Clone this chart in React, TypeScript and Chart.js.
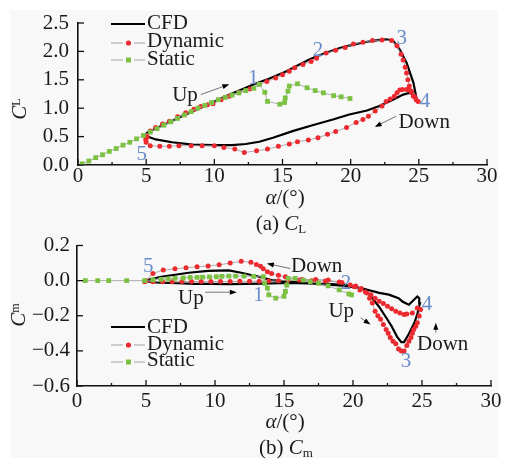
import React, { useEffect, useRef } from "react";
import { Chart, registerables } from "chart.js";

Chart.register(...registerables);

const SERIF = '"Liberation Serif", "Times New Roman", Times, serif';
const INK = "#1a1a1a";
const RED = "#ec2a2f";
const GREEN = "#7cc242";
const BLUE = "#6a8bc9";
const THIN = "#9a9a9a";

type P = [number, number];

// ---------- tick values ----------
const alphaTicks = [0, 5, 10, 15, 20, 25, 30];
const clTicks = [0, 0.5, 1, 1.5, 2, 2.5];
const cmTicks = [-0.6, -0.4, -0.2, 0, 0.2];

// ---------- (a) lift coefficient C_L vs alpha ----------
const cfdCL: P[] = [
  [5.0, 0.56], [6.0, 0.68], [7.0, 0.79], [8.0, 0.9], [9.0, 1.01], [10.0, 1.12], [11.0, 1.23],
  [12.0, 1.33], [13.0, 1.43], [14.0, 1.52], [15.0, 1.62], [15.3, 1.65], [16.0, 1.74], [17.0, 1.86],
  [18.0, 1.96], [19.2, 2.06], [20.2, 2.12], [21.2, 2.17], [22.0, 2.2], [22.6, 2.21], [23.1, 2.19],
  [23.6, 2.03], [24.1, 1.8], [24.6, 1.45], [24.8, 1.21], [24.3, 1.27], [23.85, 1.24], [23.1, 1.15],
  [22.1, 1.04], [21.2, 0.96], [19.9, 0.89], [18.7, 0.8], [17.2, 0.7], [15.8, 0.6], [14.3, 0.48],
  [13.3, 0.41], [12.3, 0.37], [11.3, 0.35], [9.9, 0.35], [8.4, 0.36], [6.9, 0.4], [5.7, 0.45],
  [5.0, 0.51], [5.0, 0.56],
];

const dynamicCL: P[] = [
  [5.05, 0.51], [5.3, 0.6], [5.7, 0.66], [6.2, 0.72], [6.7, 0.77], [7.3, 0.85], [7.9, 0.92],
  [8.5, 0.98], [9.0, 1.03], [9.5, 1.06], [9.9, 1.08], [10.5, 1.15], [11.1, 1.21], [11.8, 1.27],
  [12.6, 1.34], [13.3, 1.42], [13.85, 1.47], [14.5, 1.53], [15.0, 1.59], [15.5, 1.65], [15.9, 1.71],
  [16.5, 1.77], [17.1, 1.82], [17.5, 1.88], [18.2, 1.97], [18.9, 2.02], [19.6, 2.07], [20.2, 2.13],
  [20.9, 2.16], [21.6, 2.19], [22.3, 2.2], [23.0, 2.19], [23.4, 2.1], [23.7, 1.95], [23.85, 1.85],
  [24.0, 1.72], [24.1, 1.62], [24.2, 1.5], [24.3, 1.39], [24.45, 1.3], [24.6, 1.21], [24.8, 1.15],
  [24.95, 1.12], [24.7, 1.2], [24.45, 1.28], [24.3, 1.32], [24.1, 1.33], [23.8, 1.33], [23.6, 1.32],
  [23.4, 1.27], [23.2, 1.21], [22.9, 1.16], [22.6, 1.12], [22.3, 1.04], [21.8, 0.95], [21.3, 0.86],
  [20.9, 0.8], [20.4, 0.75], [19.7, 0.66], [18.9, 0.59], [18.3, 0.54], [17.6, 0.48], [16.9, 0.44],
  [16.1, 0.41], [15.5, 0.37], [14.7, 0.33], [13.9, 0.28], [13.1, 0.25], [12.2, 0.22], [11.5, 0.28],
  [10.7, 0.31], [10.0, 0.34], [9.1, 0.34], [8.3, 0.34], [7.4, 0.34], [6.7, 0.33], [6.0, 0.33],
  [5.3, 0.34], [5.0, 0.4], [4.97, 0.45], [5.05, 0.49],
];

const staticCL: P[] = [
  [0.3, 0.02], [0.8, 0.07], [1.3, 0.13], [1.8, 0.18], [2.3, 0.24], [2.8, 0.29], [3.3, 0.35],
  [3.8, 0.4], [4.3, 0.46], [4.8, 0.52], [5.3, 0.58], [5.8, 0.64], [6.3, 0.7], [6.8, 0.76],
  [7.3, 0.82], [7.8, 0.88], [8.3, 0.94], [8.8, 1.0], [9.3, 1.05], [9.8, 1.1], [10.3, 1.15],
  [10.8, 1.19], [11.3, 1.23], [11.8, 1.27], [12.3, 1.31], [12.9, 1.35], [13.3, 1.42], [13.7, 1.28],
  [13.9, 1.12], [14.8, 1.07], [15.15, 1.1], [15.2, 1.18], [15.4, 1.3], [15.5, 1.39], [16.1, 1.43],
  [16.8, 1.36], [17.4, 1.31], [18.0, 1.27], [18.75, 1.22], [19.3, 1.2], [19.95, 1.17],
];

// ---------- (b) moment coefficient C_m vs alpha ----------
const cfdCm: P[] = [
  [5.0, 0.0], [5.3, -0.007], [6.0, -0.012], [7.3, -0.015], [8.5, -0.018], [9.8, -0.019],
  [11.0, -0.02], [12.2, -0.019], [13.5, -0.017], [14.6, -0.015], [16.0, -0.015], [17.3, -0.017],
  [18.5, -0.02], [19.5, -0.025], [20.4, -0.04], [20.9, -0.055], [21.4, -0.1], [21.9, -0.15],
  [22.4, -0.21], [22.8, -0.26], [23.2, -0.32], [23.5, -0.35], [23.7, -0.35], [24.0, -0.31],
  [24.2, -0.28], [24.45, -0.24], [24.66, -0.19], [24.85, -0.13], [24.8, -0.1], [24.66, -0.09],
  [24.4, -0.11], [24.05, -0.137], [23.6, -0.12], [23.3, -0.1], [22.6, -0.08], [21.9, -0.07],
  [20.7, -0.045], [19.2, -0.028], [17.3, -0.017], [15.3, -0.006], [14.1, 0.003], [13.2, 0.022],
  [11.9, 0.045], [11.0, 0.058], [9.5, 0.056], [8.1, 0.045], [6.1, 0.022], [5.3, 0.008], [5.0, 0.0],
];

const dynamicCm: P[] = [
  [4.9, -0.006], [5.5, -0.006], [6.2, -0.006], [6.9, -0.006], [7.6, -0.005], [8.3, -0.005],
  [9.0, -0.005], [9.7, -0.005], [10.4, -0.005], [11.1, -0.005], [11.8, -0.004], [12.5, -0.004],
  [13.2, -0.003], [13.9, -0.002], [14.6, -0.001], [15.3, 0.002], [16.3, 0.006], [17.3, 0.007],
  [18.2, 0.003], [19.2, -0.011], [20.2, -0.03], [20.6, -0.045], [21.0, -0.071], [21.2, -0.1],
  [21.4, -0.128], [21.6, -0.174], [21.8, -0.2], [22.0, -0.22], [22.2, -0.25], [22.4, -0.278],
  [22.55, -0.3], [22.7, -0.324], [22.9, -0.345], [23.1, -0.36], [23.3, -0.39], [23.5, -0.4],
  [23.7, -0.4], [23.9, -0.37], [24.05, -0.345], [24.2, -0.324], [24.3, -0.3], [24.4, -0.278],
  [24.55, -0.26], [24.66, -0.24], [24.8, -0.202], [24.9, -0.165], [24.66, -0.156], [24.3, -0.184],
  [23.9, -0.19], [23.7, -0.193], [23.4, -0.185], [23.1, -0.174], [22.8, -0.16], [22.5, -0.146],
  [22.2, -0.13], [21.9, -0.118], [21.6, -0.1], [21.3, -0.08], [20.9, -0.065], [20.5, -0.053],
  [20.1, -0.035], [19.8, -0.025], [19.0, -0.008], [18.0, -0.002], [17.0, 0.0], [16.1, 0.004],
  [15.1, 0.022], [14.6, 0.03], [14.1, 0.041], [13.8, 0.05], [13.5, 0.068], [13.3, 0.082],
  [13.0, 0.092], [12.6, 0.104], [11.9, 0.11], [11.1, 0.1], [10.3, 0.09], [9.5, 0.083],
  [8.7, 0.079], [7.9, 0.073], [7.1, 0.067], [6.25, 0.06], [5.5, 0.041], [5.0, 0.0],
];

const staticCm: P[] = [
  [0.6, 0.0], [1.5, 0.0], [2.3, 0.0], [3.6, 0.0], [4.9, 0.0], [5.5, 0.004], [6.1, 0.007],
  [6.6, 0.01], [7.1, 0.013], [7.7, 0.015], [8.2, 0.018], [8.7, 0.019], [9.1, 0.02], [9.6, 0.021],
  [10.1, 0.022], [10.5, 0.024], [11.0, 0.026], [11.5, 0.026], [12.1, 0.026], [12.8, 0.024],
  [13.5, 0.022], [13.6, -0.015], [13.8, -0.043], [13.9, -0.081], [14.4, -0.1], [15.0, -0.09],
  [15.1, -0.062], [15.2, -0.025], [15.3, 0.013], [15.8, 0.013], [16.4, 0.003], [16.9, -0.006],
  [17.5, -0.015], [18.2, -0.03], [19.0, -0.053], [19.7, -0.075], [19.9, -0.081],
];

// ---------- annotations (data coordinates) ----------
type Ann = { text: string; x: number; y: number; color: string };
type Arrow = { x1: number; y1: number; x2: number; y2: number };

const topNotes: Ann[] = [
  { text: "1", x: 12.85, y: 1.53, color: BLUE },
  { text: "2", x: 17.6, y: 2.02, color: BLUE },
  { text: "3", x: 23.75, y: 2.23, color: BLUE },
  { text: "4", x: 25.45, y: 1.11, color: BLUE },
  { text: "5", x: 4.67, y: 0.19, color: BLUE },
  { text: "Up", x: 7.85, y: 1.22, color: INK },
  { text: "Down", x: 25.4, y: 0.75, color: INK },
];
const topArrows: Arrow[] = [
  { x1: 9.0, y1: 1.24, x2: 11.1, y2: 1.42 },
  { x1: 23.35, y1: 0.86, x2: 21.76, y2: 0.67 },
];

const botNotes: Ann[] = [
  { text: "5", x: 5.16, y: 0.079, color: BLUE },
  { text: "1", x: 13.15, y: -0.085, color: BLUE },
  { text: "2", x: 19.5, y: -0.015, color: BLUE },
  { text: "3", x: 23.84, y: -0.46, color: BLUE },
  { text: "4", x: 25.36, y: -0.136, color: BLUE },
  { text: "Up", x: 8.25, y: -0.102, color: INK },
  { text: "Down", x: 17.37, y: 0.083, color: INK },
  { text: "Up", x: 19.15, y: -0.175, color: INK },
  { text: "Down", x: 26.5, y: -0.366, color: INK },
];
const botArrows: Arrow[] = [
  { x1: 9.28, y1: -0.066, x2: 11.58, y2: -0.066 },
  { x1: 15.46, y1: 0.069, x2: 13.76, y2: 0.097 },
  { x1: 20.55, y1: -0.212, x2: 21.27, y2: -0.25 },
  { x1: 26.0, y1: -0.296, x2: 26.0, y2: -0.24 },
];

const seriesNames = ["CFD", "Dynamic", "Static"];

const toXY = (pts: P[]) => pts.map(([x, y]) => ({ x, y }));

const fmt = (v: number) => {
  if (Math.abs(v) < 1e-9) return "0.0";
  return v < 0 ? "\u2212" + Math.abs(v).toFixed(1) : v.toFixed(1);
};

function makeDecor(cfg: {
  yTicks: number[];
  notes: Ann[];
  arrows: Arrow[];
  legendRows: number[];
  legendText: number[];
}) {
  return {
    id: "decor",
    afterDatasetsDraw(chart: any) {
      const { ctx, chartArea: ca, scales } = chart;
      const xs = scales.x;
      const ys = scales.y;
      ctx.save();
      // inward tick marks
      ctx.strokeStyle = "#111";
      ctx.lineWidth = 1.3;
      for (let i = 0; i <= 12; i++) {
        const px = xs.getPixelForValue(i * 2.5);
        const len = i % 2 === 0 ? 6 : 3;
        ctx.beginPath();
        ctx.moveTo(px, ca.bottom);
        ctx.lineTo(px, ca.bottom - len);
        ctx.stroke();
      }
      for (const v of cfg.yTicks) {
        const py = ys.getPixelForValue(v);
        ctx.beginPath();
        ctx.moveTo(ca.left, py);
        ctx.lineTo(ca.left + 6, py);
        ctx.stroke();
      }
      // arrows
      for (const a of cfg.arrows) {
        const x1 = xs.getPixelForValue(a.x1);
        const y1 = ys.getPixelForValue(a.y1);
        const x2 = xs.getPixelForValue(a.x2);
        const y2 = ys.getPixelForValue(a.y2);
        const ang = Math.atan2(y2 - y1, x2 - x1);
        ctx.strokeStyle = "#666";
        ctx.lineWidth = 0.9;
        ctx.beginPath();
        ctx.moveTo(x1, y1);
        ctx.lineTo(x2 - 4 * Math.cos(ang), y2 - 4 * Math.sin(ang));
        ctx.stroke();
        ctx.fillStyle = "#000";
        ctx.beginPath();
        ctx.moveTo(x2, y2);
        ctx.lineTo(x2 - 7 * Math.cos(ang) + 2.5 * Math.sin(ang), y2 - 7 * Math.sin(ang) - 2.5 * Math.cos(ang));
        ctx.lineTo(x2 - 7 * Math.cos(ang) - 2.5 * Math.sin(ang), y2 - 7 * Math.sin(ang) + 2.5 * Math.cos(ang));
        ctx.closePath();
        ctx.fill();
      }
      // text notes
      ctx.font = `21px ${SERIF}`;
      ctx.textAlign = "center";
      ctx.textBaseline = "middle";
      for (const n of cfg.notes) {
        ctx.fillStyle = n.color;
        ctx.fillText(n.text, xs.getPixelForValue(n.x), ys.getPixelForValue(n.y));
      }
      // legend
      const lx0 = 111;
      const lx1 = 145;
      const [r0, r1, r2] = cfg.legendRows;
      ctx.strokeStyle = "#000";
      ctx.lineWidth = 2.2;
      ctx.beginPath();
      ctx.moveTo(lx0, r0);
      ctx.lineTo(lx1, r0);
      ctx.stroke();
      ctx.strokeStyle = THIN;
      ctx.lineWidth = 0.9;
      for (const r of [r1, r2]) {
        ctx.beginPath();
        ctx.moveTo(lx0, r);
        ctx.lineTo(lx0 + 12, r);
        ctx.moveTo(lx1 - 11, r);
        ctx.lineTo(lx1, r);
        ctx.stroke();
      }
      ctx.fillStyle = RED;
      ctx.beginPath();
      ctx.arc(128.5, r1, 2.6, 0, Math.PI * 2);
      ctx.fill();
      ctx.fillStyle = GREEN;
      ctx.fillRect(128.5 - 2.5, r2 - 2.5, 5, 5);
      ctx.fillStyle = INK;
      ctx.textAlign = "left";
      seriesNames.forEach((s, i) => ctx.fillText(s, 147, cfg.legendText[i]));
      ctx.restore();
    },
  };
}

function buildConfig(opts: {
  cfd: P[];
  dyn: P[];
  sta: P[];
  yMin: number;
  yMax: number;
  yTicks: number[];
  yWidth: number;
  xHeight: number;
  padTop: number;
  padRight: number;
  yPad: number;
  xPad: number;
  decor: any;
}) {
  const font = { family: SERIF, size: 21, lineHeight: 1 };
  return {
    type: "scatter" as const,
    data: {
      datasets: [
        {
          label: "CFD",
          data: toXY(opts.cfd),
          showLine: true,
          borderColor: "#000",
          borderWidth: 2.2,
          pointRadius: 0,
          tension: 0,
          order: 3,
        },
        {
          label: "Dynamic",
          data: toXY(opts.dyn),
          showLine: true,
          borderColor: THIN,
          borderWidth: 0.8,
          pointRadius: 2.5,
          pointStyle: "circle",
          pointBackgroundColor: RED,
          pointBorderWidth: 0,
          order: 2,
        },
        {
          label: "Static",
          data: toXY(opts.sta),
          showLine: true,
          borderColor: THIN,
          borderWidth: 0.8,
          pointRadius: 3.4,
          pointStyle: "rect",
          pointBackgroundColor: GREEN,
          pointBorderWidth: 0,
          order: 1,
        },
      ],
    },
    options: {
      responsive: false,
      maintainAspectRatio: false,
      devicePixelRatio: 1,
      animation: false,
      events: [],
      layout: { padding: { left: 0, right: opts.padRight, top: opts.padTop, bottom: 0 } },
      plugins: { legend: { display: false }, tooltip: { enabled: false } },
      scales: {
        x: {
          type: "linear",
          min: 0,
          max: 30,
          afterBuildTicks: (s: any) => {
            s.ticks = alphaTicks.map((v) => ({ value: v }));
          },
          afterFit: (s: any) => {
            s.height = opts.xHeight;
          },
          grid: { display: false, drawTicks: false },
          border: { display: true, color: "#111", width: 1.6 },
          ticks: {
            font,
            color: INK,
            padding: opts.xPad,
            maxRotation: 0,
            autoSkip: false,
            callback: (v: any) => String(v),
          },
        },
        y: {
          type: "linear",
          min: opts.yMin,
          max: opts.yMax,
          afterBuildTicks: (s: any) => {
            s.ticks = opts.yTicks.map((v) => ({ value: v }));
          },
          afterFit: (s: any) => {
            s.width = opts.yWidth;
          },
          grid: { display: false, drawTicks: false },
          border: { display: true, color: "#111", width: 1.6 },
          ticks: {
            font,
            color: INK,
            padding: opts.yPad,
            autoSkip: false,
            callback: (v: any) => fmt(Number(v)),
          },
        },
      },
    },
    plugins: [opts.decor],
  };
}

function Text(props: { x: number; y: number; rotate?: boolean; children: any }) {
  return (
    <div
      style={{
        position: "absolute",
        left: props.x,
        top: props.y,
        transform: props.rotate ? "translate(-50%,-50%) rotate(-90deg)" : "translate(-50%,-50%)",
        fontFamily: SERIF,
        fontSize: 21,
        lineHeight: 1,
        color: INK,
        whiteSpace: "nowrap",
      }}
    >
      {props.children}
    </div>
  );
}

const subStyle = { fontSize: 13, fontStyle: "normal" as const, verticalAlign: "-0.25em" };
const raisedSub = { fontSize: 12, fontStyle: "normal" as const, verticalAlign: "0.45em" };

export default function App() {
  const topRef = useRef<HTMLCanvasElement | null>(null);
  const botRef = useRef<HTMLCanvasElement | null>(null);

  useEffect(() => {
    const top = new Chart(
      topRef.current as HTMLCanvasElement,
      buildConfig({
        cfd: cfdCL,
        dyn: dynamicCL,
        sta: staticCL,
        yMin: 0,
        yMax: 2.5,
        yTicks: clTicks,
        yWidth: 78,
        xHeight: 63,
        padTop: 23,
        padRight: 26,
        yPad: 9,
        xPad: 1,
        decor: makeDecor({
          yTicks: clTicks,
          notes: topNotes,
          arrows: topArrows,
          legendRows: [24, 43, 60],
          legendText: [23, 41, 59],
        }),
      }) as any
    );
    const bot = new Chart(
      botRef.current as HTMLCanvasElement,
      buildConfig({
        cfd: cfdCm,
        dyn: dynamicCm,
        sta: staticCm,
        yMin: -0.6,
        yMax: 0.2,
        yTicks: cmTicks,
        yWidth: 77,
        xHeight: 75,
        padTop: 14,
        padRight: 22,
        yPad: 7,
        xPad: 5,
        decor: makeDecor({
          yTicks: cmTicks,
          notes: botNotes,
          arrows: botArrows,
          legendRows: [99, 117, 134],
          legendText: [99.5, 116, 132],
        }),
      }) as any
    );
    return () => {
      top.destroy();
      bot.destroy();
    };
  }, []);

  return (
    <div
      style={{
        position: "absolute",
        left: 0,
        top: 0,
        width: 513,
        height: 461,
        background: "#ffffff",
        overflow: "hidden",
      }}
    >
      <div
        style={{
          position: "absolute",
          left: 10,
          top: 10,
          width: 488,
          height: 448,
          background: "#f8f8f8",
        }}
      />
      <canvas ref={topRef} width={513} height={228} style={{ position: "absolute", left: 0, top: 0 }} />
      <canvas ref={botRef} width={513} height={233} style={{ position: "absolute", left: 0, top: 228 }} />

      <Text x={19} y={109} rotate>
        <i>C</i>
        <span style={raisedSub}>L</span>
      </Text>
      <Text x={285} y={197}>
        <i>α</i>/(°)
      </Text>
      <Text x={281} y={224}>
        (a) <i>C</i>
        <span style={subStyle}>L</span>
      </Text>

      <Text x={18} y={315} rotate>
        <i>C</i>
        <span style={raisedSub}>m</span>
      </Text>
      <Text x={285} y={421}>
        <i>α</i>/(°)
      </Text>
      <Text x={286} y={448}>
        (b) <i>C</i>
        <span style={subStyle}>m</span>
      </Text>
    </div>
  );
}
